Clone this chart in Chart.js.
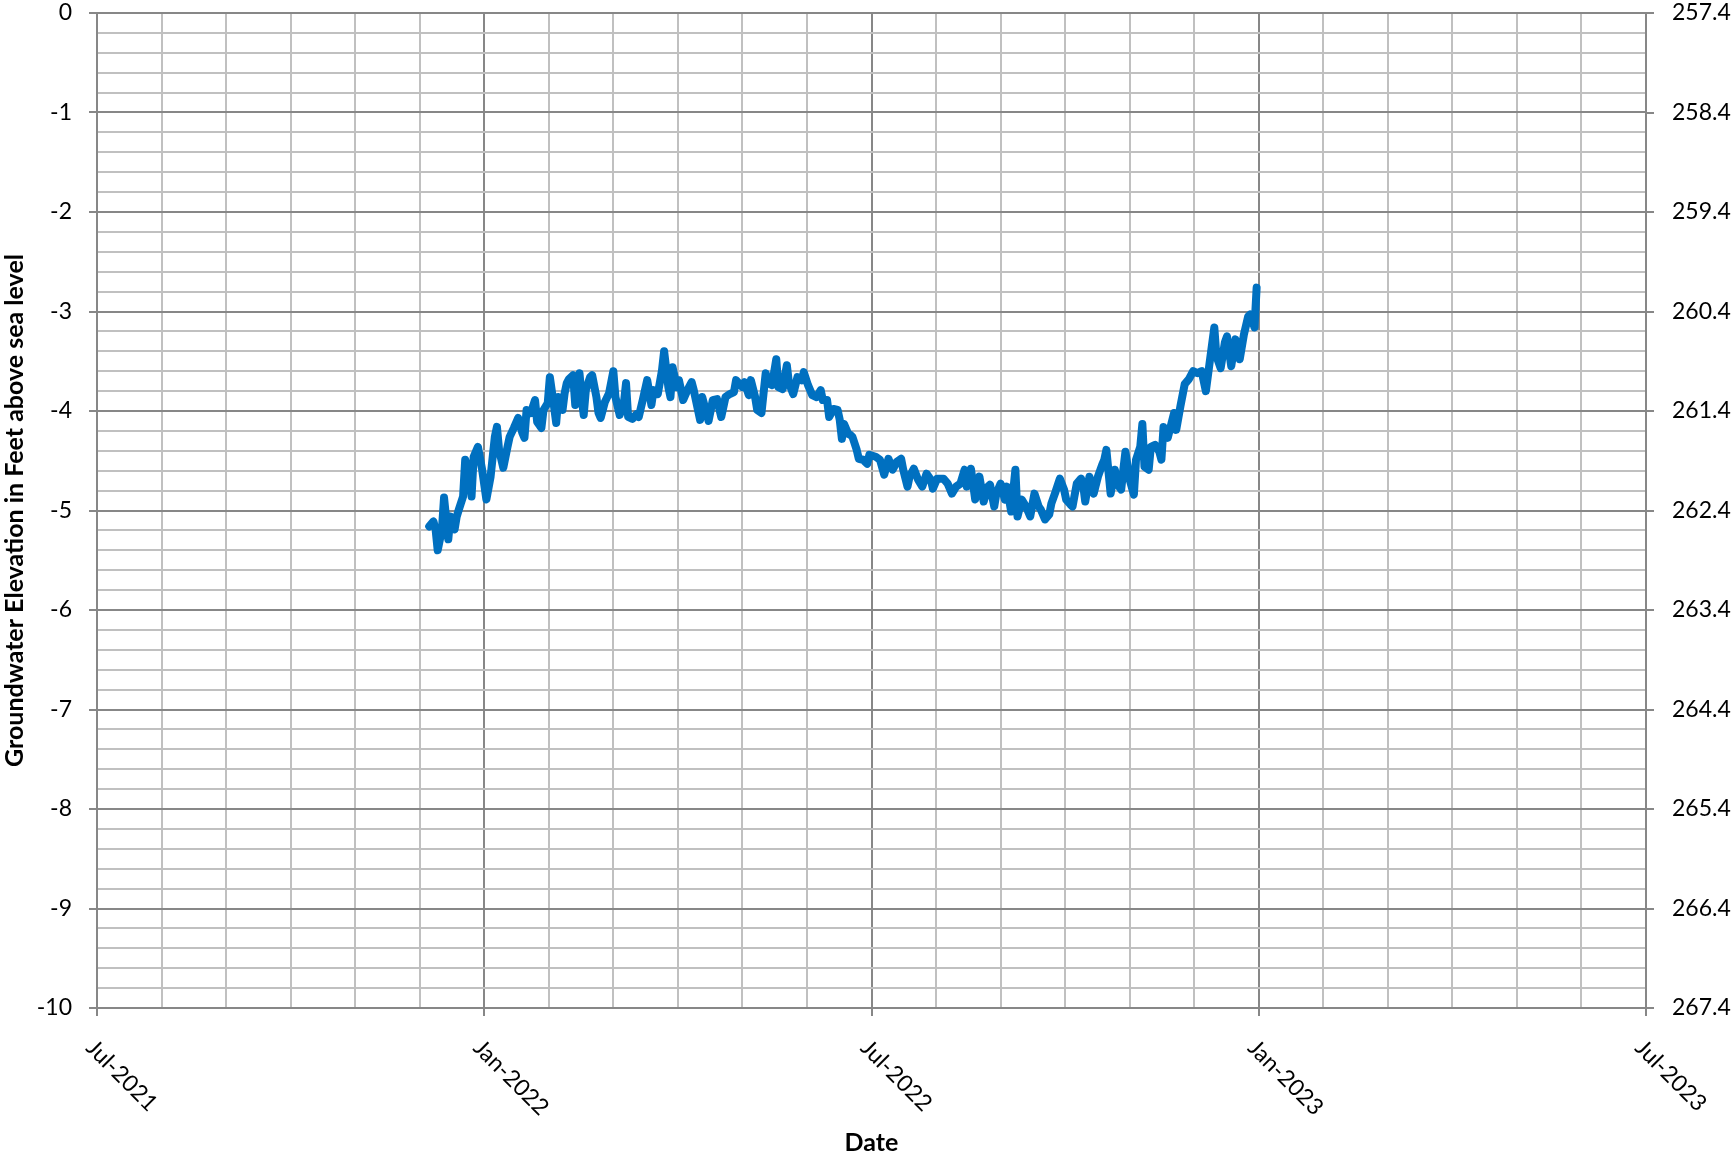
<!DOCTYPE html>
<html>
<head>
<meta charset="utf-8">
<title>Groundwater Elevation</title>
<script src="https://cdn.jsdelivr.net/npm/chart.js@4.4.1/dist/chart.umd.min.js"></script>
<style>
  html, body { margin: 0; padding: 0; background: #fff; }
  canvas { display: block; }
</style>
</head>
<body>
<canvas id="chart" width="1733" height="1155"></canvas>
<script>
// Readings (dates) and water level on the left axis (feet)
const dates = [
  '2021-12-06','2021-12-08','2021-12-09','2021-12-10','2021-12-12','2021-12-13','2021-12-15','2021-12-16','2021-12-18','2021-12-19','2021-12-20','2021-12-22','2021-12-23','2021-12-25','2021-12-26','2021-12-27','2021-12-29','2021-12-31',
  '2022-01-02','2022-01-04','2022-01-06','2022-01-07','2022-01-08','2022-01-10','2022-01-12','2022-01-13','2022-01-15','2022-01-17','2022-01-19','2022-01-20','2022-01-21','2022-01-23','2022-01-25','2022-01-26','2022-01-28','2022-01-29','2022-01-31',
  '2022-02-01','2022-02-03','2022-02-04','2022-02-05','2022-02-07','2022-02-08','2022-02-09','2022-02-10','2022-02-12','2022-02-13','2022-02-14','2022-02-15','2022-02-16','2022-02-17','2022-02-18','2022-02-20','2022-02-21','2022-02-23','2022-02-24','2022-02-25','2022-02-27',
  '2022-03-01','2022-03-03','2022-03-04','2022-03-06','2022-03-08','2022-03-09','2022-03-10','2022-03-12','2022-03-14','2022-03-15','2022-03-17','2022-03-19','2022-03-21','2022-03-22','2022-03-24','2022-03-26','2022-03-27','2022-03-29','2022-03-30','2022-03-31',
  '2022-04-02','2022-04-03','2022-04-05','2022-04-07','2022-04-09','2022-04-10','2022-04-13','2022-04-14','2022-04-17','2022-04-19','2022-04-21','2022-04-23','2022-04-25','2022-04-27','2022-04-29','2022-04-30',
  '2022-05-03','2022-05-04','2022-05-06','2022-05-07','2022-05-09','2022-05-10','2022-05-12','2022-05-14','2022-05-15','2022-05-17','2022-05-19','2022-05-20','2022-05-22','2022-05-24','2022-05-25','2022-05-27','2022-05-29','2022-05-31',
  '2022-06-01','2022-06-03','2022-06-05','2022-06-07','2022-06-09','2022-06-10','2022-06-12','2022-06-13','2022-06-15','2022-06-17','2022-06-18','2022-06-19','2022-06-20','2022-06-22','2022-06-23','2022-06-24','2022-06-26','2022-06-27','2022-06-29',
  '2022-07-01','2022-07-02','2022-07-05','2022-07-07','2022-07-09','2022-07-10','2022-07-11','2022-07-13','2022-07-15','2022-07-17','2022-07-18','2022-07-20','2022-07-21','2022-07-23','2022-07-25','2022-07-27','2022-07-29','2022-07-31',
  '2022-08-01','2022-08-03','2022-08-06','2022-08-08','2022-08-10','2022-08-12','2022-08-14','2022-08-16','2022-08-17','2022-08-19','2022-08-21','2022-08-23','2022-08-25','2022-08-27','2022-08-28','2022-08-30','2022-08-31',
  '2022-09-02','2022-09-04','2022-09-05','2022-09-07','2022-09-09','2022-09-10','2022-09-12','2022-09-14','2022-09-16','2022-09-18','2022-09-20','2022-09-21','2022-09-23','2022-09-25','2022-09-26','2022-09-28','2022-09-30',
  '2022-10-02','2022-10-03','2022-10-05','2022-10-06','2022-10-08','2022-10-10','2022-10-11','2022-10-12','2022-10-14','2022-10-16','2022-10-18','2022-10-20','2022-10-21','2022-10-22','2022-10-24','2022-10-26','2022-10-27','2022-10-29','2022-10-30','2022-10-31',
  '2022-11-02','2022-11-04','2022-11-05','2022-11-07','2022-11-08','2022-11-09','2022-11-11','2022-11-12','2022-11-14','2022-11-16','2022-11-17','2022-11-18','2022-11-20','2022-11-23','2022-11-24','2022-11-26','2022-11-28','2022-11-30',
  '2022-12-02','2022-12-04','2022-12-06','2022-12-08','2022-12-10','2022-12-12','2022-12-13','2022-12-15','2022-12-17','2022-12-18','2022-12-20','2022-12-22','2022-12-24','2022-12-26','2022-12-28','2022-12-29','2022-12-31','2023-01-01'
];
const levels = [
  -5.16,-5.11,-5.19,-5.40,-5.19,-4.87,-5.29,-5.06,-5.19,-5.06,-4.99,-4.86,-4.49,-4.66,-4.86,-4.46,-4.36,-4.59,
  -4.89,-4.66,-4.26,-4.16,-4.39,-4.57,-4.36,-4.26,-4.17,-4.07,-4.22,-4.27,-3.99,-4.02,-3.89,-4.11,-4.17,-3.99,-3.92,
  -3.66,-3.96,-4.12,-3.86,-3.99,-3.82,-3.72,-3.68,-3.64,-3.94,-3.79,-3.62,-3.86,-4.04,-3.79,-3.66,-3.64,-3.86,-4.02,-4.07,-3.91,
  -3.82,-3.60,-3.86,-4.04,-3.92,-3.72,-4.06,-4.08,-4.03,-4.06,-3.88,-3.69,-3.94,-3.79,-3.83,-3.59,-3.40,-3.76,-3.86,-3.56,
  -3.76,-3.69,-3.89,-3.79,-3.71,-3.79,-4.09,-3.86,-4.10,-3.89,-3.88,-4.06,-3.86,-3.83,-3.81,-3.69,
  -3.76,-3.71,-3.84,-3.69,-3.86,-3.99,-4.02,-3.62,-3.72,-3.74,-3.48,-3.76,-3.78,-3.54,-3.72,-3.83,-3.66,-3.69,
  -3.61,-3.74,-3.84,-3.86,-3.79,-3.89,-3.89,-4.06,-3.98,-3.99,-4.09,-4.28,-4.13,-4.23,-4.24,-4.26,-4.39,-4.48,-4.49,
  -4.53,-4.44,-4.46,-4.49,-4.64,-4.56,-4.48,-4.59,-4.51,-4.48,-4.59,-4.76,-4.66,-4.58,-4.69,-4.76,-4.63,-4.69,
  -4.78,-4.68,-4.68,-4.73,-4.83,-4.76,-4.73,-4.59,-4.76,-4.58,-4.89,-4.66,-4.91,-4.76,-4.74,-4.96,-4.83,
  -4.73,-4.89,-4.76,-5.01,-4.59,-5.06,-4.89,-4.96,-5.06,-4.83,-4.96,-4.99,-5.09,-5.04,-4.93,-4.81,-4.68,
  -4.79,-4.89,-4.94,-4.96,-4.73,-4.68,-4.74,-4.91,-4.66,-4.83,-4.66,-4.54,-4.49,-4.39,-4.83,-4.59,-4.73,-4.79,-4.59,-4.41,
  -4.69,-4.84,-4.49,-4.36,-4.13,-4.56,-4.59,-4.36,-4.34,-4.41,-4.49,-4.16,-4.27,-4.02,-4.19,-3.95,-3.73,-3.68,
  -3.60,-3.62,-3.60,-3.80,-3.48,-3.16,-3.45,-3.57,-3.31,-3.25,-3.55,-3.28,-3.48,-3.23,-3.05,-3.03,-3.16,-2.76
];

// Axis ticks
const leftTicks = [0, -1, -2, -3, -4, -5, -6, -7, -8, -9, -10];
const rightTicks = [257.4, 258.4, 259.4, 260.4, 261.4, 262.4, 263.4, 264.4, 265.4, 266.4, 267.4];
const xTickLabels = ['Jul-2021', 'Jan-2022', 'Jul-2022', 'Jan-2023', 'Jul-2023'];

const DAY = 86400000;
const axisStart = Date.UTC(2021, 6, 2);
const majorDays = 183;
const minorDays = 30.5;

const MAJOR = '#878787';
const MINOR = '#c0c0c0';
const FONT = 'Lato';
const TICK_SIZE = 23;
const TITLE_SIZE = 25;

const points = dates.map((d, i) => ({
    x: (Date.parse(d) - axisStart) / DAY,
    y: levels[i]
}));

// x labels go down to the right, which chart.js can't rotate that way
const xLabelPlugin = {
    id: 'xLabels',
    afterDraw(chart) {
        const sx = chart.scales.x;
        const c = chart.ctx;
        c.save();
        c.font = TICK_SIZE + 'px ' + FONT;
        c.fillStyle = '#000';
        c.textAlign = 'left';
        c.textBaseline = 'middle';
        xTickLabels.forEach((lab, i) => {
            const px = sx.getPixelForValue(i * majorDays);
            c.save();
            c.translate(px - 7, chart.chartArea.bottom + 36);
            c.rotate(Math.PI / 4);
            c.fillText(lab, 0, 0);
            c.restore();
        });
        c.restore();
    }
};

const ctx = document.getElementById('chart').getContext('2d');
new Chart(ctx, {
    type: 'line',
    data: {
        datasets: [{
            data: points,
            borderColor: '#0070c0',
            borderWidth: 8,
            pointRadius: 0,
            borderJoinStyle: 'round',
            borderCapStyle: 'round',
            tension: 0,
            fill: false
        }]
    },
    options: {
        responsive: false,
        animation: false,
        layout: { padding: { top: 13, right: 0, bottom: 0, left: 0 } },
        plugins: { legend: { display: false }, tooltip: { enabled: false } },
        scales: {
            x: {
                type: 'linear',
                position: 'bottom',
                min: 0,
                max: majorDays * 4,
                afterBuildTicks: function(s) {
                    const t = [];
                    for (let i = 0; i <= 24; i++) t.push({ value: i * minorDays });
                    s.ticks = t;
                },
                ticks: { display: false },
                grid: {
                    color: c => (c.index % 6 === 0 ? MAJOR : MINOR),
                    lineWidth: 2,
                    tickLength: 8,
                    tickColor: c => (c.index % 6 === 0 ? MAJOR : 'rgba(0,0,0,0)')
                },
                border: { display: true, color: MAJOR, width: 2 },
                title: {
                    display: true,
                    text: 'Date',
                    color: '#000',
                    font: { family: FONT, size: TITLE_SIZE, weight: 'bold', lineHeight: 1 },
                    padding: { top: 0, bottom: 0 }
                },
                afterFit: function(s) {
                    s.height = 147;
                    s.paddingLeft = 0;
                    s.paddingRight = 0;
                }
            },
            y: {
                type: 'linear',
                position: 'left',
                min: -10,
                max: 0,
                afterBuildTicks: function(s) {
                    const t = [];
                    for (let i = 0; i <= 50; i++) t.push({ value: -i / 5 });
                    s.ticks = t;
                },
                ticks: {
                    autoSkip: false,
                    color: '#000',
                    font: { family: FONT, size: TICK_SIZE },
                    padding: 17,
                    callback: v => (leftTicks.includes(v) ? String(v) : '')
                },
                grid: {
                    color: c => (c.tick && leftTicks.includes(c.tick.value) ? MAJOR : MINOR),
                    lineWidth: 2,
                    tickLength: 8,
                    tickColor: c => (c.tick && leftTicks.includes(c.tick.value) ? MAJOR : 'rgba(0,0,0,0)')
                },
                border: { display: true, color: MAJOR, width: 2 },
                title: {
                    display: true,
                    text: 'Groundwater Elevation in Feet above sea level',
                    color: '#000',
                    font: { family: FONT, size: TITLE_SIZE, weight: 'bold', lineHeight: 1.2 },
                    padding: { top: 0, bottom: 0 }
                },
                afterFit: function(s) {
                    s.width = 97;
                    s.paddingTop = 0;
                    s.paddingBottom = 0;
                }
            },
            y2: {
                type: 'linear',
                position: 'right',
                min: 257.4,
                max: 267.4,
                reverse: true,
                afterBuildTicks: function(s) {
                    s.ticks = rightTicks.map(v => ({ value: v }));
                },
                ticks: {
                    autoSkip: false,
                    color: '#000',
                    font: { family: FONT, size: TICK_SIZE },
                    padding: 18,
                    callback: v => v.toFixed(1)
                },
                grid: { drawOnChartArea: false, lineWidth: 2, tickLength: 8, tickColor: MAJOR },
                border: { display: true, color: MAJOR, width: 2 },
                afterFit: function(s) {
                    s.width = 87;
                    s.paddingTop = 0;
                    s.paddingBottom = 0;
                }
            }
        }
    },
    plugins: [xLabelPlugin]
});
</script>
</body>
</html>
